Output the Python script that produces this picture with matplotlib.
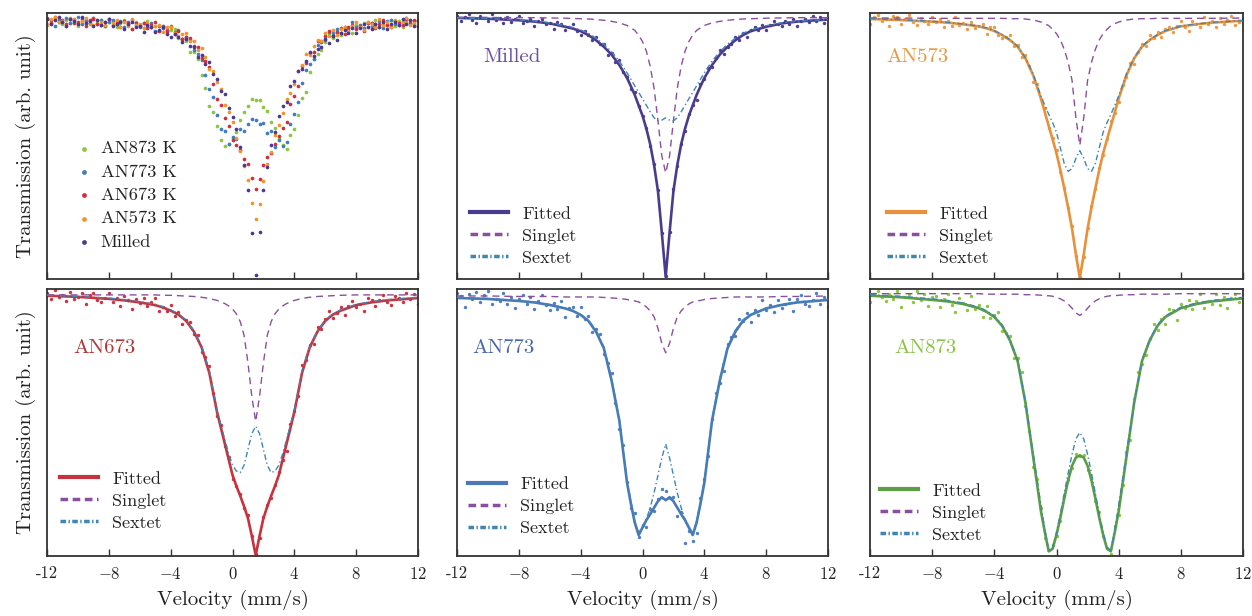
import numpy as np
import matplotlib
matplotlib.use('Agg')
import matplotlib.pyplot as plt

plt.rcParams['font.family'] = ['cmr10', 'DejaVu Serif']
plt.rcParams['mathtext.fontset'] = 'cm'

# channel velocities of the measured spectra (mm/s), 97 channels
v_pts = np.linspace(-12, 12, 97)

# velocities where the fitted curves are sampled
v_fit = [-12, -10, -8, -7, -6, -5, -4.5, -4, -3.5, -3, -2.5, -2, -1.5, -1, -0.75, -0.5,
         -0.25, 0, 0.25, 0.5, 0.75, 1, 1.25, 1.5, 1.75, 2, 2.25, 2.5, 2.75, 3, 3.25,
         3.5, 3.75, 4, 4.5, 5, 5.5, 6, 6.5, 7, 8, 9, 10, 12]

tick_vals = [-12, -8, -4, 0, 4, 8, 12]
tick_labels = ['-12', '$-8$', '$-4$', '$0$', '$4$', '$8$', '$12$']

# measured transmission (normalised)
milled_pts = [1.004, .984, .998, 1.010, .990, .976, 1.004, .995, .984, 1.012,
              .988, .997, .976, 1.000, .982, .992, 1.004, .976, .983, .992,
              .966, .985, .992, .971, .976, .952, .981, .972, .951, .962,
              .971, .946, .932, .946, .932, .912, .924, .897, .895, .855,
              .861, .826, .834, .787, .769, .721, .711, .657, .620, .574,
              .502, .433, .336, .168, .002, .171, .337, .426, .512, .563,
              .625, .662, .681, .741, .763, .802, .808, .841, .873, .859,
              .886, .894, .924, .911, .937, .922, .948, .961, .949, .968,
              .949, .969, .985, .971, .965, .983, .974, .992, .964, .985,
              .993, .979, 1.002, .985, .999, .977, .995]
an573_pts = [.981, 1.002, 1.010, .990, .997, .976, 1.007, 1.002, .983, .997,
             1.009, .988, .979, .999, .992, .982, 1.003, .987, .998, .972,
             .992, .976, 1.003, .979, .985, .968, .989, .971, .975, .981,
             .952, .972, .974, .950, .939, .944, .949, .916, .919, .883,
             .889, .857, .809, .801, .756, .729, .669, .639, .603, .538,
             .489, .429, .375, .285, .223, .282, .370, .437, .486, .549,
             .588, .638, .692, .716, .748, .799, .823, .866, .861, .899,
             .922, .917, .949, .939, .959, .943, .966, .973, .957, .975,
             .990, .972, .960, .990, .983, .973, 1.004, .982, .992, .973,
             .999, .981, .993, 1.007, .980, .989, 1.001]
an673_pts = [1.002, .987, 1.010, .992, .999, .983, 1.005, .988, .993, 1.002,
             .975, .998, 1.004, .985, .979, .991, 1.003, .979, .991, .971,
             .994, .986, .963, .988, .977, .989, .969, .980, .990, .958,
             .967, .958, .972, .944, .955, .924, .935, .930, .899, .896,
             .852, .839, .816, .749, .690, .666, .615, .586, .531, .513,
             .491, .457, .438, .384, .338, .379, .433, .464, .481, .514,
             .548, .578, .602, .670, .702, .741, .820, .832, .871, .873,
             .916, .912, .936, .957, .938, .951, .967, .946, .971, .982,
             .966, .975, .956, .989, .986, .969, .985, .999, .980, .972,
             .994, .989, .980, 1.003, .988, 1.000, .976]
an773_pts = [1.006, .999, .977, 1.004, .993, 1.007, .988, 1.001, 1.010, .983,
             .994, .989, 1.006, .983, .998, .975, .993, 1.001, .983, .997,
             .974, .990, 1.001, .982, .972, .986, .974, .989, .957, .975,
             .978, .959, .977, .953, .960, .927, .933, .923, .883, .865,
             .845, .785, .732, .700, .627, .574, .565, .517, .541, .536,
             .573, .568, .592, .613, .608, .594, .597, .559, .567, .505,
             .529, .508, .525, .595, .632, .679, .753, .806, .826, .849,
             .903, .917, .920, .953, .949, .966, .947, .972, .961, .992,
             .972, .981, .967, .991, .976, .983, .994, .969, .994, 1.001,
             .984, .980, .992, 1.006, .983, .997, .978]
an873_pts = [.983, 1.000, 1.006, .994, .985, 1.000, .989, 1.005, .975, .994,
             1.000, .984, 1.006, .987, .999, .977, .993, .995, .974, .989,
             1.000, .979, .964, .991, .982, .969, .996, .971, .978, .955,
             .976, .953, .959, .964, .928, .925, .919, .876, .875, .848,
             .784, .736, .665, .642, .587, .529, .506, .516, .533, .562,
             .609, .641, .664, .691, .687, .689, .660, .643, .600, .578,
             .533, .510, .497, .551, .574, .630, .694, .718, .797, .848,
             .865, .882, .912, .942, .930, .952, .941, .970, .968, .950,
             .980, .972, .988, .971, .986, .999, .972, .985, .981, 1.000,
             .978, .994, .972, .992, 1.000, .984, 1.000]

# fitted curves: total, singlet and sextet components
milled_fit = [.996, .993, .987, .982, .975, .962, .955, .945, .930, .910, .885, .855, .815, .765, .733, .700,
              .660, .620, .570, .510, .430, .330, .170, .000, .170, .330, .430, .510, .570, .620,
              .660, .700, .733, .765, .815, .855, .885, .910, .930, .945, .962, .975, .982, .990]
milled_singlet = [.998, .998, .997, .997, .996, .995, .994, .993, .992, .990, .987, .983, .977, .967, .958, .948,
                  .930, .905, .868, .810, .725, .600, .465, .400, .465, .600, .725, .810, .868, .905,
                  .930, .948, .958, .967, .977, .983, .987, .990, .992, .993, .995, .996, .997, .997]
milled_sextet = [.996, .993, .988, .984, .977, .966, .959, .950, .937, .918, .895, .866, .830, .785, .760, .735,
                 .710, .685, .660, .635, .612, .600, .603, .612, .603, .600, .612, .635, .660, .685,
                 .710, .735, .760, .785, .830, .866, .895, .918, .937, .950, .966, .977, .984, .990]

an573_fit = [.997, .994, .989, .986, .981, .975, .969, .961, .949, .934, .914, .879, .828, .758, .717, .676,
             .636, .594, .544, .489, .431, .368, .290, .220, .290, .368, .431, .489, .544, .594,
             .636, .676, .717, .758, .828, .879, .914, .934, .949, .961, .975, .981, .986, .992]
an573_singlet = [1.0, 1.0, .999, .999, .999, .999, .999, .999, .999, .998, .998, .997, .994, .988, .983, .977,
                 .966, .953, .934, .906, .867, .813, .700, .618, .700, .813, .867, .906, .934, .953,
                 .966, .977, .983, .988, .994, .997, .998, .998, .999, .999, .999, .999, .999, 1.0]
an573_sextet = [.998, .995, .990, .987, .982, .976, .970, .962, .950, .935, .915, .881, .832, .766, .738, .711,
                .686, .657, .610, .563, .540, .548, .579, .602, .579, .548, .540, .563, .610, .657,
                .686, .711, .738, .766, .832, .881, .915, .935, .950, .962, .976, .982, .987, .992]

an673_fit = [.996, .993, .988, .984, .979, .972, .966, .958, .948, .932, .905, .865, .800, .700, .660, .620,
             .580, .540, .512, .487, .460, .430, .385, .336, .385, .430, .460, .487, .512, .540,
             .580, .620, .660, .700, .800, .865, .905, .932, .948, .958, .972, .979, .984, .990]
an673_singlet = [.998, .998, .998, .998, .998, .998, .997, .997, .996, .995, .994, .992, .989, .984, .980, .976,
                 .970, .962, .950, .930, .895, .825, .740, .676, .740, .825, .895, .930, .950, .962,
                 .970, .976, .980, .984, .989, .992, .994, .995, .996, .997, .998, .998, .998, .998]
an673_sextet = [.997, .994, .990, .986, .981, .974, .968, .960, .950, .934, .907, .868, .805, .705, .668, .630,
                .595, .565, .550, .546, .565, .605, .645, .664, .645, .605, .565, .546, .550, .565,
                .595, .630, .668, .705, .805, .868, .907, .934, .950, .960, .974, .981, .986, .992]

an773_fit = [.996, .994, .990, .987, .982, .975, .970, .962, .950, .928, .895, .830, .750, .625, .583, .545,
             .520, .535, .550, .562, .575, .588, .596, .590, .596, .588, .575, .562, .550, .535,
             .520, .545, .583, .625, .750, .830, .895, .928, .950, .962, .975, .982, .987, .992]
an773_singlet = [1.0, 1.0, .999, .999, .999, .998, .998, .998, .998, .998, .997, .996, .995, .993, .991, .990,
                 .988, .984, .978, .970, .958, .935, .905, .886, .905, .935, .958, .970, .978, .984,
                 .988, .990, .991, .993, .995, .996, .997, .998, .998, .998, .998, .999, .999, 1.0]
an773_sextet = [.997, .995, .991, .988, .983, .976, .971, .963, .952, .931, .898, .834, .753, .630, .588, .548,
                .524, .537, .552, .575, .605, .640, .675, .703, .675, .640, .605, .575, .552, .537,
                .524, .548, .588, .630, .753, .834, .898, .931, .952, .963, .976, .983, .988, .993]

an873_fit = [.996, .993, .988, .985, .980, .972, .965, .955, .938, .910, .870, .790, .685, .580, .540, .503,
             .508, .535, .568, .605, .640, .668, .684, .688, .684, .668, .640, .605, .568, .535,
             .508, .503, .540, .580, .685, .790, .870, .910, .938, .955, .972, .980, .985, .991]
an873_singlet = [1.0, 1.0, 1.0, 1.0, 1.0, 1.0, .999, .999, .999, .999, .999, .998, .998, .997, .996, .996,
                 .995, .993, .990, .986, .980, .972, .963, .958, .963, .972, .980, .986, .990, .993,
                 .995, .996, .996, .997, .998, .998, .999, .999, .999, .999, 1.0, 1.0, 1.0, 1.0]
an873_sextet = [.998, .995, .990, .987, .982, .974, .967, .957, .940, .912, .872, .792, .692, .592, .545, .505,
                .510, .540, .575, .615, .654, .690, .720, .732, .720, .690, .654, .615, .575, .540,
                .510, .505, .545, .592, .692, .792, .872, .912, .940, .957, .974, .982, .987, .993]

SINGLET_COLOR = '#8b4f9f'
SEXTET_COLOR = '#3f86b4'
TEXT_COLOR = '#222222'

fig = plt.figure(figsize=(12.52, 6.16), dpi=100)
W, H = 1252, 616
cols = [(47, 418), (457, 828), (870, 1243)]
rows = [(13, 279), (289, 556)]


def make_axes(r, c):
    x0, x1 = cols[c]
    y0, y1 = rows[r]
    return fig.add_axes([x0 / W, 1 - y1 / H, (x1 - x0) / W, (y1 - y0) / H])


def style(ax, bottom_row):
    ax.set_xlim(-12, 12)
    ax.set_xticks(tick_vals)
    ax.set_yticks([])
    ax.tick_params(axis='x', direction='in', length=5, width=1, color='#333333',
                   labelsize=12, pad=7, labelcolor=TEXT_COLOR, labelbottom=bottom_row)
    for s in ax.spines.values():
        s.set_linewidth(1.3)
        s.set_color('#333333')
    if bottom_row:
        ax.set_xticklabels(tick_labels)
        ax.set_xlabel('Velocity (mm/s)', fontsize=15, labelpad=6, color=TEXT_COLOR)


# --- overview panel: all spectra on one scale
ax0 = make_axes(0, 0)
overview = [('AN873 K', an873_pts, '#8cc63f'),
            ('AN773 K', an773_pts, '#3f7cc0'),
            ('AN673 K', an673_pts, '#d42d3a'),
            ('AN573 K', an573_pts, '#f0942f'),
            ('Milled', milled_pts, '#4b3795')]
for name, pts, col in overview:
    ax0.scatter(v_pts, pts, s=7, color=col, linewidths=0, label=name)
ax0.set_ylim(-0.012, 1.027)
style(ax0, False)
ax0.set_ylabel('Transmission (arb. unit)', fontsize=15, labelpad=8, color=TEXT_COLOR)
ax0.legend(loc='lower left', bbox_to_anchor=(0.08, 0.11), frameon=False, fontsize=13.3,
           markerscale=1.3, handlelength=0.8, handletextpad=0.5, labelspacing=0.4,
           borderpad=0, borderaxespad=0, labelcolor=TEXT_COLOR)

# --- individual fitted spectra
panels = [
    (0, 1, 'Milled', milled_pts, milled_fit, milled_singlet, milled_sextet,
     '#4d3d95', '#4b3b8f', '#6b4fa0', (-0.008, 1.015), (0.07, 0.835), (0.035, 0.05)),
    (0, 2, 'AN573', an573_pts, an573_fit, an573_singlet, an573_sextet,
     '#eb9a48', '#e8913a', '#e49a45', (0.217, 1.015), (0.043, 0.835), (0.045, 0.05)),
    (1, 0, 'AN673', an673_pts, an673_fit, an673_singlet, an673_sextet,
     '#d03040', '#c8323c', '#b03838', (0.334, 1.013), (0.07, 0.78), (0.035, 0.095)),
    (1, 1, 'AN773', an773_pts, an773_fit, an773_singlet, an773_sextet,
     '#4f7fc0', '#4a78b8', '#4a68a8', (0.478, 1.014), (0.04, 0.78), (0.03, 0.075)),
    (1, 2, 'AN873', an873_pts, an873_fit, an873_singlet, an873_sextet,
     '#8cc63f', '#5c9e44', '#8cc34a', (0.494, 1.009), (0.065, 0.78), (0.027, 0.05)),
]

for r, c, name, pts, fit, sing, sext, pcol, fcol, tcol, ylim, tpos, lpos in panels:
    ax = make_axes(r, c)
    ax.scatter(v_pts, pts, s=6, color=pcol, linewidths=0, zorder=1)
    ax.plot(v_fit, fit, color=fcol, lw=1.9, zorder=2, label='Fitted')
    ax.plot(v_fit, sing, color=SINGLET_COLOR, lw=1.0, ls=(0, (5, 3.5)), zorder=3, label='Singlet')
    ax.plot(v_fit, sext, color=SEXTET_COLOR, lw=1.0, ls=(0, (4, 2, 1, 2)), zorder=4, label='Sextet')
    ax.set_ylim(*ylim)
    style(ax, r == 1)
    ax.text(tpos[0], tpos[1], name, transform=ax.transAxes, fontsize=15, color=tcol,
            ha='left', va='center')
    leg = ax.legend(loc='lower left', bbox_to_anchor=lpos, frameon=False, fontsize=13,
                    handlelength=2.1, handletextpad=0.8, labelspacing=0.35,
                    borderpad=0, borderaxespad=0, labelcolor=TEXT_COLOR)
    lh = leg.legend_handles
    lh[0].set_linewidth(3)
    lh[1].set_linewidth(2.5)
    lh[1].set_linestyle((0, (2.2, 1.3)))
    lh[2].set_linewidth(2.5)
    lh[2].set_linestyle((0, (1.6, 0.7, 0.4, 0.7)))
    if c == 0:
        ax.set_ylabel('Transmission (arb. unit)', fontsize=15, labelpad=8, color=TEXT_COLOR)

fig.savefig('out.png', dpi=100)
